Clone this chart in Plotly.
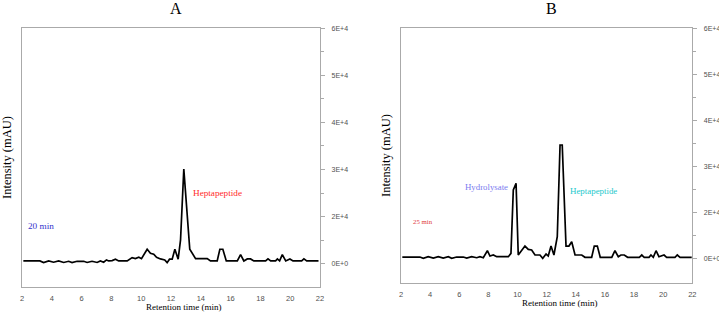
import plotly.graph_objects as go

W, H = 719, 313

# ---- data (y in axis units; the tick labelled "0E+0" sits at 10000) ----
a_time = [2.09, 2.9, 3.2, 3.45, 3.79, 4.12, 4.46, 4.80, 5.13, 5.36, 5.70, 6.14, 6.37, 6.70,
          7.04, 7.26, 7.48, 7.67, 7.82, 8.05, 8.27, 8.49, 9.06, 9.39, 9.61, 9.84, 10.02,
          10.40, 10.62, 10.84, 11.03, 11.29, 11.58, 11.74, 11.90, 12.08, 12.26, 12.48,
          12.64, 12.86, 13.26, 13.65, 14.43, 14.65, 15.10, 15.28, 15.48, 15.71, 16.45,
          16.67, 16.89, 17.12, 17.34, 17.56, 18.35, 18.51, 18.69, 19.02, 19.14, 19.29,
          19.47, 19.70, 19.98, 20.19, 20.77, 20.92, 21.11, 21.9]
a_intensity = [10574, 10574, 10574, 10213, 10574, 10300, 10574, 10250, 10500, 10213, 10500,
               10500, 10250, 10500, 10250, 10574, 10300, 10790, 10574, 10650, 10940, 10574,
               10574, 11290, 11060, 11360, 11060, 13060, 12210, 12000, 11360, 11000, 10790,
               10210, 10940, 10940, 13060, 10940, 15040, 30090, 13060, 11060, 11060, 10574,
               10574, 13060, 13060, 10574, 10574, 11915, 10574, 11000, 11000, 10574, 10574,
               11000, 10574, 10574, 11000, 10574, 11915, 10574, 11000, 10574, 10574, 11000,
               10574, 10574]

b_time = [2.09, 3.30, 3.53, 3.87, 4.22, 4.56, 4.90, 5.25, 5.48, 5.82, 6.28, 6.51, 6.85, 7.20,
          7.42, 7.65, 7.93, 8.11, 8.34, 8.57, 9.37, 9.55, 9.71, 9.90, 10.05, 10.29, 10.51,
          10.74, 10.97, 11.20, 11.54, 11.73, 11.96, 12.11, 12.30, 12.50, 12.73, 12.92,
          13.07, 13.33, 13.53, 13.72, 13.95, 14.41, 14.63, 15.09, 15.27, 15.48, 15.68,
          16.47, 16.69, 16.92, 17.10, 17.33, 17.56, 18.36, 18.53, 18.70, 19.03, 19.16,
          19.32, 19.51, 19.71, 20.06, 20.24, 20.81, 20.97, 21.16, 21.96]
b_intensity = [10280, 10280, 9990, 10350, 10060, 10350, 10060, 10350, 9990, 10280, 10280,
               10060, 10350, 10130, 10350, 10130, 11650, 10500, 10720, 10350, 10350, 11070,
               24850, 26300, 10720, 11650, 12670, 11940, 11800, 10720, 10720, 10000, 10930,
               10500, 12670, 10720, 14700, 34630, 34630, 12670, 12670, 13610, 10720, 10720,
               10220, 10220, 12670, 12670, 10220, 10220, 11650, 10350, 10720, 10720, 10220,
               10220, 10720, 10220, 10220, 10720, 10220, 11650, 10350, 10720, 10220, 10220,
               10720, 10220, 10220]

x_tickvals = [2, 4, 6, 8, 10, 12, 14, 16, 18, 20, 22]
y_tickvals = [10000, 20000, 30000, 40000, 50000, 60000]
y_ticktext = ["0E+0", "2E+4", "3E+4", "4E+4", "5E+4", "6E+4"]
y_minorvals = [15000, 25000, 35000, 45000, 55000]

GRAY = "#aaaaaa"
SERIF = "Liberation Serif"
SANS = "Liberation Sans"

fig = go.Figure()
fig.add_trace(go.Scatter(x=a_time, y=a_intensity, mode="lines",
                         line=dict(color="black", width=1.7), xaxis="x", yaxis="y",
                         showlegend=False))
fig.add_trace(go.Scatter(x=b_time, y=b_intensity, mode="lines",
                         line=dict(color="black", width=1.7), xaxis="x2", yaxis="y2",
                         showlegend=False))


def xa(left, right, anchor, standoff):
    return dict(domain=[left / W, right / W], range=[2, 22], tickmode="array",
                tickvals=x_tickvals, ticks="", showgrid=False, zeroline=False,
                showline=True, linecolor=GRAY, linewidth=1.2, mirror=True,
                automargin=False, ticklabelstandoff=standoff,
                tickfont=dict(family=SANS, size=7.5, color="#505050"), anchor=anchor)


def ya(top, bottom, lo, anchor):
    return dict(domain=[1 - bottom / H, 1 - top / H], range=[lo, 60000], side="right",
                tickmode="array", tickvals=y_tickvals, ticktext=y_ticktext,
                ticks="outside", ticklen=4, tickcolor=GRAY, tickwidth=1,
                minor=dict(tickmode="array", tickvals=y_minorvals, ticks="outside",
                           ticklen=3, tickcolor=GRAY),
                showgrid=False, zeroline=False, showline=True, linecolor=GRAY,
                linewidth=1.2, mirror=True, automargin=False, ticklabelstandoff=5,
                tickfont=dict(family=SANS, size=7, color="#505050"), anchor=anchor)


def ann(text, px, py, size, color="black", angle=0, family=SERIF):
    return dict(text=text, x=px / W, y=1 - py / H, xref="paper", yref="paper",
                xanchor="center", yanchor="middle", showarrow=False, textangle=angle,
                font=dict(family=family, size=size, color=color))


fig.update_layout(
    width=W, height=H, margin=dict(l=0, r=0, t=0, b=0, autoexpand=False),
    paper_bgcolor="white", plot_bgcolor="white",
    xaxis=xa(22, 320, "y", 4), yaxis=ya(28.3, 286.7, 5100, "x"),
    xaxis2=xa(401, 692.3, "y2", 4), yaxis2=ya(28.3, 282.7, 4700, "x2"),
    annotations=[
        ann("A", 176, 8.5, 16),
        ann("B", 551, 8.5, 16),
        ann("Intensity (mAU)", 7, 158, 12.5, angle=-90),
        ann("Intensity (mAU)", 386, 156, 12.5, angle=-90),
        ann("Retention time (min)", 183.7, 307, 9),
        ann("Retention time (min)", 559.5, 303, 9),
        ann("Heptapeptide", 217, 193.3, 9.2, color="#ff2a2a"),
        ann("20 min", 41.2, 226, 9.2, color="#3333cc"),
        ann("Hydrolysate", 486.3, 186.7, 8.8, color="#7b7bf0"),
        ann("Heptapeptide", 593, 190.7, 8.9, color="#22c8cc"),
        ann("25 min", 422.8, 221.7, 6.8, color="#e03a3a"),
    ],
)

fig.write_html("out.html", config={"displayModeBar": False},
               post_script="document.body.style.margin='0';document.body.style.overflow='hidden';")
